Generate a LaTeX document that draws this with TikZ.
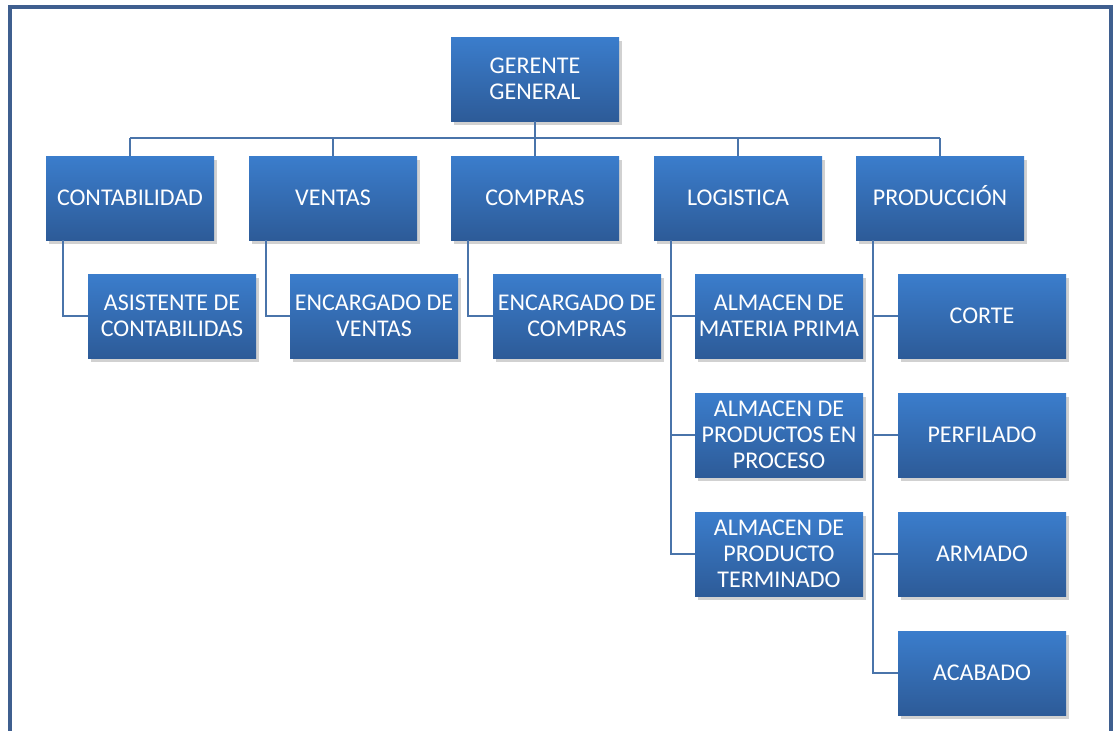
\documentclass[tikz,border=0pt]{standalone}
\usepackage{fontspec}
\setmainfont{Carlito}
\usetikzlibrary{shadows,positioning}
\definecolor{frame}{HTML}{3F5F8F}
\definecolor{boxtop}{HTML}{3B7DCC}
\definecolor{boxbot}{HTML}{2D5B98}
\definecolor{conn}{HTML}{4A74AA}
\tikzset{
  orgbox/.style={rectangle, minimum width=168pt, minimum height=84pt, inner sep=1pt,
    top color=boxtop, bottom color=boxbot, draw=none, text=white, align=center,
    font=\fontsize{24}{26}\selectfont,
    drop shadow={shadow xshift=3pt, shadow yshift=-4pt, opacity=0.3, fill=black!60}},
  link/.style={draw=conn, line width=2pt}
}
\begin{document}
\begin{tikzpicture}[x=1pt,y=-1pt]
\useasboundingbox (0,0) rectangle (1114,731);
\draw[frame, line width=4pt] (10,760) -- (10,7) -- (1111,7) -- (1111,760);
% level 0
\node[orgbox] (gg) at (535,79) {GERENTE\\GENERAL};
% level 1
\node[orgbox] (cont) at (130,198) {CONTABILIDAD};
\node[orgbox] (vent) at (333,198) {VENTAS};
\node[orgbox] (comp) at (535,198) {COMPRAS};
\node[orgbox] (logi) at (738,198) {LOGISTICA};
\node[orgbox] (prod) at (940,198) {\vphantom{C}\smash{PRODUCCIÓN}};
% level 2
\node[orgbox] (asis) at (172,316) {ASISTENTE DE\\CONTABILIDAS};
\node[orgbox] (ev) at (374,316) {ENCARGADO DE\\VENTAS};
\node[orgbox] (ec) at (577,316) {ENCARGADO DE\\COMPRAS};
\node[orgbox] (amp) at (779,316) {ALMACEN DE\\MATERIA PRIMA};
\node[orgbox] (ape) at (779,435) {ALMACEN DE\\PRODUCTOS EN\\PROCESO};
\node[orgbox] (apt) at (779,554) {ALMACEN DE\\PRODUCTO\\TERMINADO};
\node[orgbox] (corte) at (982,316) {CORTE};
\node[orgbox] (perf) at (982,435) {PERFILADO};
\node[orgbox] (arm) at (982,554) {ARMADO};
\node[orgbox] (acab) at (982,673) {ACABADO};
% connectors
\coordinate (bar) at (0,138);
\draw[link] (gg.south) -- (gg.south |- bar);
\draw[link] (cont.north |- bar) -- (prod.north |- bar);
\foreach \n in {cont,vent,comp,logi,prod}
  \draw[link] (\n.north |- bar) -- (\n.north);
\draw[link] ([xshift=17pt]cont.south west) |- (asis.west);
\draw[link] ([xshift=17pt]vent.south west) |- (ev.west);
\draw[link] ([xshift=17pt]comp.south west) |- (ec.west);
\draw[link] ([xshift=17pt]logi.south west) |- (amp.west);
\draw[link] ([xshift=17pt]logi.south west) |- (ape.west);
\draw[link] ([xshift=17pt]logi.south west) |- (apt.west);
\draw[link] ([xshift=17pt]prod.south west) |- (corte.west);
\draw[link] ([xshift=17pt]prod.south west) |- (perf.west);
\draw[link] ([xshift=17pt]prod.south west) |- (arm.west);
\draw[link] ([xshift=17pt]prod.south west) |- (acab.west);
\end{tikzpicture}
\end{document}
